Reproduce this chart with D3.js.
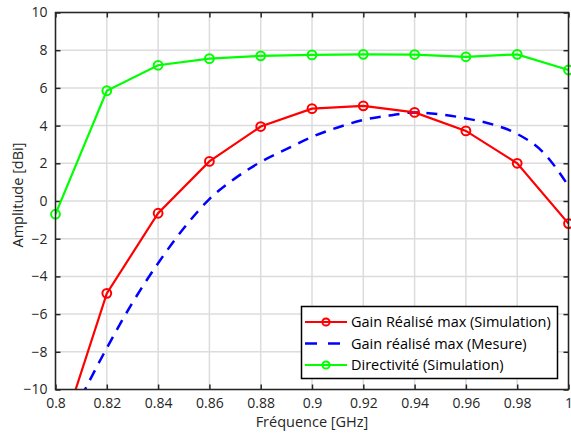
<!DOCTYPE html>
<html>
<head>
<meta charset="utf-8">
<script src="https://cdn.jsdelivr.net/npm/d3@7"></script>
<style>
  html, body { margin: 0; padding: 0; background: #fff; }
  svg { display: block; font-family: "Open Sans", sans-serif; }
</style>
</head>
<body>
<svg id="chart" width="571" height="434"></svg>
<script>
// ---- Data ----
const freqSim = [0.80, 0.82, 0.84, 0.86, 0.88, 0.90, 0.92, 0.94, 0.96, 0.98, 1.00];
const gainSim = [-13.3, -4.9, -0.65, 2.1, 3.95, 4.9, 5.05, 4.7, 3.72, 2.0, -1.2];
const directivitySim = [-0.7, 5.85, 7.2, 7.55, 7.7, 7.75, 7.78, 7.77, 7.65, 7.78, 6.95];

const freqMes = [0.81, 0.82, 0.83, 0.84, 0.85, 0.86, 0.87, 0.88, 0.89, 0.90, 0.91, 0.92, 0.93, 0.94, 0.95, 0.96, 0.97, 0.98, 0.99, 1.00];
const gainMes = [-10.4, -7.8, -5.4, -3.3, -1.45, 0.1, 1.2, 2.07, 2.75, 3.4, 3.9, 4.3, 4.53, 4.7, 4.6, 4.38, 4.08, 3.56, 2.6, 0.8];

const xTicks = [0.8, 0.82, 0.84, 0.86, 0.88, 0.9, 0.92, 0.94, 0.96, 0.98, 1];
const yTicks = [-10, -8, -6, -4, -2, 0, 2, 4, 6, 8, 10];

const seriesNames = ["Gain Réalisé max (Simulation)", "Gain réalisé max (Mesure)", "Directivité (Simulation)"];
const seriesColors = ["#ff0000", "#0000ff", "#00ff00"];

// ---- Layout ----
const pL = 55.5, pR = 568.5, pT = 12.5, pB = 389.5;
const svg = d3.select("#chart");
const x = d3.scaleLinear().domain([0.8, 1]).range([pL, pR]);
const y = d3.scaleLinear().domain([-10, 10]).range([pB, pT]);
const axisColor = "#262626";

// clip
svg.append("defs").append("clipPath").attr("id", "clip")
  .append("rect").attr("x", pL).attr("y", pT).attr("width", pR - pL).attr("height", pB - pT);

// grid
const grid = svg.append("g");
grid.selectAll(null).data(xTicks).join("line")
  .attr("x1", d => x(d)).attr("x2", d => x(d)).attr("y1", pT).attr("y2", pB)
  .attr("stroke", "#dcdcdc").attr("stroke-width", 1.5);
grid.selectAll(null).data(yTicks).join("line")
  .attr("y1", d => y(d)).attr("y2", d => y(d)).attr("x1", pL).attr("x2", pR)
  .attr("stroke", "#dcdcdc").attr("stroke-width", 1.5);

// axes
const fmtX = d => String(d);
const xAxisB = d3.axisBottom(x).tickValues(xTicks).tickSize(-5).tickPadding(9).tickFormat(fmtX);
const xAxisT = d3.axisTop(x).tickValues(xTicks).tickSize(-5).tickFormat("");
const yAxisL = d3.axisLeft(y).tickValues(yTicks).tickSize(-5).tickPadding(8);
const yAxisR = d3.axisRight(y).tickValues(yTicks).tickSize(-5).tickFormat("");

function styleAxis(g) {
  g.select(".domain").remove();
  g.selectAll(".tick line").attr("stroke", axisColor).attr("stroke-width", 1.5);
  g.selectAll(".tick text").attr("fill", axisColor).style("font-size", "14px").style("font-family", "'Open Sans', sans-serif");
}
svg.append("g").attr("transform", `translate(0,${pB})`).call(xAxisB).call(styleAxis);
svg.append("g").attr("transform", `translate(0,${pT})`).call(xAxisT).call(styleAxis);
svg.append("g").attr("transform", `translate(${pL},0)`).call(yAxisL).call(styleAxis);
svg.append("g").attr("transform", `translate(${pR},0)`).call(yAxisR).call(styleAxis);

// series
const plot = svg.append("g").attr("clip-path", "url(#clip)");
const lineGen = d3.line().x(d => x(d[0])).y(d => y(d[1]));
const smoothGen = d3.line().x(d => x(d[0])).y(d => y(d[1])).curve(d3.curveMonotoneX);

const redData = freqSim.map((f, i) => [f, gainSim[i]]);
const greenData = freqSim.map((f, i) => [f, directivitySim[i]]);
const blueData = freqMes.map((f, i) => [f, gainMes[i]]);

plot.append("path").datum(blueData).attr("d", smoothGen)
  .attr("fill", "none").attr("stroke", seriesColors[1]).attr("stroke-width", 2.5)
  .attr("stroke-dasharray", "11,8");
plot.append("path").datum(redData).attr("d", lineGen)
  .attr("fill", "none").attr("stroke", seriesColors[0]).attr("stroke-width", 2.2);
plot.append("path").datum(greenData).attr("d", lineGen)
  .attr("fill", "none").attr("stroke", seriesColors[2]).attr("stroke-width", 2.2);

const markers = svg.append("g");
[[redData, seriesColors[0]], [greenData, seriesColors[2]]].forEach(([data, c]) => {
  markers.append("g").selectAll("circle").data(data.filter(d => d[1] >= -10 && d[1] <= 10)).join("circle")
    .attr("cx", d => x(d[0])).attr("cy", d => y(d[1])).attr("r", 4.4)
    .attr("fill", "none").attr("stroke", c).attr("stroke-width", 2);
});

// box
svg.append("rect").attr("x", pL).attr("y", pT).attr("width", pR - pL).attr("height", pB - pT)
  .attr("fill", "none").attr("stroke", axisColor).attr("stroke-width", 1.5);

// axis labels
svg.append("text").attr("x", (pL + pR) / 2).attr("y", 427).attr("text-anchor", "middle")
  .attr("fill", axisColor).style("font-size", "14.5px").text("Fréquence [GHz]");
svg.append("text").attr("transform", `translate(23,195) rotate(-90)`).attr("text-anchor", "middle")
  .attr("fill", axisColor).style("font-size", "14.5px").text("Amplitude [dBi]");

// legend
const lg = svg.append("g");
lg.append("rect").attr("x", 301.5).attr("y", 306.5).attr("width", 256).attr("height", 72)
  .attr("fill", "#fff").attr("stroke", "#000").attr("stroke-width", 1.5);
const rowsY = [322, 343.5, 365];
seriesNames.forEach((name, i) => {
  const yy = rowsY[i];
  const l = lg.append("line").attr("x1", 305).attr("x2", 347).attr("y1", yy).attr("y2", yy)
    .attr("stroke", seriesColors[i]).attr("stroke-width", i === 1 ? 2.5 : 2);
  if (i === 1) l.attr("stroke-dasharray", "12,11");
  else lg.append("circle").attr("cx", 326).attr("cy", yy).attr("r", 3.6)
    .attr("fill", "none").attr("stroke", seriesColors[i]).attr("stroke-width", 2);
  lg.append("text").attr("x", 351).attr("y", yy).attr("dy", "0.35em")
    .attr("fill", "#000").style("font-size", "14.5px").text(name);
});
</script>
</body>
</html>
